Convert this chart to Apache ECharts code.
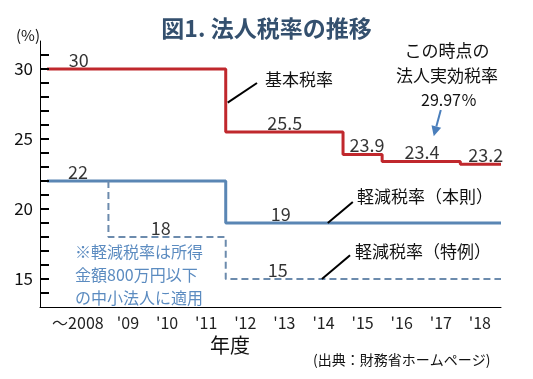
<!DOCTYPE html>
<html>
<head>
<meta charset="utf-8">
<script src="https://cdn.jsdelivr.net/npm/echarts@6/dist/echarts.min.js"></script>
<style>html,body{margin:0;padding:0;background:#fff}#c{width:533px;height:379px}</style>
</head>
<body>
<div id="c"></div>
<script>
// ---- data ----
var yearLabels = ['～2008', "'09", "'10", "'11", "'12", "'13", "'14", "'15", "'16", "'17", "'18"];
var yearPositions = [0, 1, 2, 3, 4, 5, 6, 7, 8, 9, 10];
var basicBreaks = [-1.07, 3.5, 6.5, 7.5, 9.5, 10.54];
var basicRates = [30, 25.5, 23.9, 23.4, 23.2];
var reducedBreaks = [-1.07, 3.5, 10.54];
var reducedRates = [22, 19];
var specialStart = 22;
var specialBreaks = [0.5, 3.5, 10.54];
var specialRates = [18, 15];
var basicLabelX = [-0.26, 5.01, 7.11, 8.52, 10.15];
var reducedLabelX = [-0.28, 4.91];
var specialLabelX = [1.84, 4.83];
var yTickLabels = [15, 20, 25, 30];
var yTickValues = [14, 15, 16, 17, 18, 19, 20, 21, 22, 23, 24, 25, 26, 27, 28, 29, 30, 31];

function stepPoints(breaks, rates, start) {
  var pts = [];
  if (start !== undefined) pts.push([breaks[0], start]);
  for (var i = 0; i < rates.length; i++) {
    pts.push([breaks[i], rates[i]]);
    pts.push([breaks[i + 1], rates[i]]);
  }
  return pts;
}
function labelPoints(xs, rates) {
  return xs.map(function (x, i) { return [x, rates[i]]; });
}

var FONT = '"Noto Sans CJK JP", "Noto Sans", sans-serif';
var RED = '#C0282D', BLUE = '#5A86B4', DASH = '#6C8BAD', NOTE = '#5B8BC0';
var X_MIN = -1.25, X_MAX = 10.54;

var chart = echarts.init(document.getElementById('c'), null, {renderer: 'canvas'});

var labelStyle = {show: true, position: 'top', distance: 0, fontSize: 18, color: '#000', fontWeight: 'normal', fontFamily: FONT,
  formatter: function (p) { return String(p.value[1]); }};

var option = {
  backgroundColor: '#fff',
  animation: false,
  title: {
    text: '図1. 法人税率の推移', left: 'center', top: 12,
    textStyle: {fontSize: 23, fontWeight: 'bold', color: '#34506E', fontFamily: FONT}
  },
  grid: {left: 40, right: 32, top: 41, bottom: 72},
  xAxis: {
    type: 'value', min: X_MIN, max: X_MAX,
    axisLine: {show: true, onZero: false, lineStyle: {color: '#000', width: 1}},
    axisTick: {show: false},
    splitLine: {show: false},
    axisLabel: {
      customValues: yearPositions, margin: 8, fontSize: 16, color: '#222', fontFamily: FONT,
      formatter: function (v) {
        var i = Math.round(v);
        return i === 0 ? '{a|' + yearLabels[i] + '}' : yearLabels[i];
      },
      rich: {a: {fontSize: 16, color: '#222', fontFamily: FONT, padding: [0, 22, 0, 0]}}
    }
  },
  yAxis: {
    type: 'value', min: 13, max: 32,
    axisLine: {show: true, onZero: false, lineStyle: {color: '#000', width: 1}},
    axisTick: {show: false},
    splitLine: {show: false},
    axisLabel: {customValues: yTickLabels, margin: 7, fontSize: 17, color: '#111', fontFamily: FONT}
  },
  series: [
    {type: 'line', data: stepPoints(basicBreaks, basicRates), symbol: 'none',
     lineStyle: {color: RED, width: 3}, z: 3},
    {type: 'line', data: stepPoints(reducedBreaks, reducedRates), symbol: 'none',
     lineStyle: {color: BLUE, width: 3}, z: 2},
    {type: 'line', data: stepPoints(specialBreaks, specialRates, specialStart), symbol: 'none',
     lineStyle: {color: DASH, width: 2, type: [7, 4]}, z: 2},
    {type: 'scatter', data: labelPoints(basicLabelX, basicRates), symbolSize: 0, label: labelStyle, z: 5},
    {type: 'scatter', data: labelPoints(reducedLabelX, reducedRates), symbolSize: 0, label: labelStyle, z: 5},
    {type: 'scatter', data: labelPoints(specialLabelX, specialRates), symbolSize: 0, label: labelStyle, z: 5}
  ]
};
chart.setOption(option);

function px(x, y) { return chart.convertToPixel({gridIndex: 0}, [x, y]); }
function leader(a, b, color, w) {
  var p = px(a[0], a[1]), q = px(b[0], b[1]);
  return {type: 'line', shape: {x1: p[0], y1: p[1], x2: q[0], y2: q[1]}, style: {stroke: color || '#000', lineWidth: w || 2}, z: 10};
}
function txt(x, y, s, size, color, align) {
  return {type: 'text', x: x, y: y, style: {text: s, fontSize: size, fill: color || '#111', fontFamily: FONT,
    align: align || 'left', verticalAlign: 'middle'}, z: 10};
}

// y-axis tick marks as small filled rects, located through the axis scale
var tickEls = yTickValues.map(function (v) {
  var p = px(X_MIN, v);
  return {type: 'rect', shape: {x: Math.round(p[0]), y: Math.round(p[1]) - 1, width: 9, height: 2},
    style: {fill: '#000'}, z: 30};
});

// arrow
var aS = px(9.0, 27.07), aE = px(8.82, 25.2);
var ang = Math.atan2(aE[1] - aS[1], aE[0] - aS[0]);
var hl = 10, hw = 5;
var bx = aE[0] - hl * Math.cos(ang), by = aE[1] - hl * Math.sin(ang);
var head = [[aE[0], aE[1]],
  [bx + hw * Math.sin(ang), by - hw * Math.cos(ang)],
  [bx - hw * Math.sin(ang), by + hw * Math.cos(ang)]];

chart.setOption({
  graphic: {elements: [
    txt(40, 35, '(%)', 15, '#111', 'right'),
    txt(265, 80, '基本税率', 17),
    leader([3.55, 27.6], [4.3, 29.0]),
    txt(447, 51, 'この時点の', 17, '#111', 'center'),
    txt(447, 76, '法人実効税率', 17, '#111', 'center'),
    txt(449, 100, '29.97％', 16, '#111', 'center'),
    {type: 'line', shape: {x1: aS[0], y1: aS[1], x2: bx, y2: by}, style: {stroke: '#4A7EBB', lineWidth: 2}, z: 10},
    {type: 'polygon', shape: {points: head}, style: {fill: '#4A7EBB'}, z: 10},
    txt(357, 197, '軽減税率（本則）', 17),
    leader([6.11, 19.0], [6.75, 20.5]),
    txt(355, 252, '軽減税率（特例）', 17),
    leader([5.96, 15.0], [6.68, 16.7]),
    txt(75, 252, '※軽減税率は所得', 16, NOTE),
    txt(75, 275, '金額800万円以下', 16, NOTE),
    txt(75, 298, 'の中小法人に適用', 16, NOTE),
    txt(230, 345, '年度', 20, '#111', 'center'),
    txt(313, 360, '(出典：財務省ホームページ)', 14)
  ].concat(tickEls)}
});
</script>
</body>
</html>
